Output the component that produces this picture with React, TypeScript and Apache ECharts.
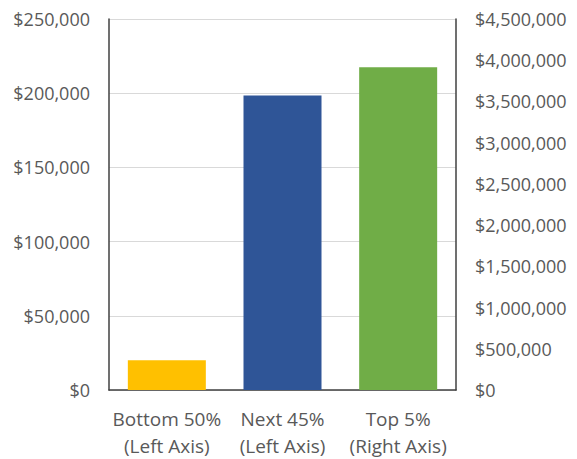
import React, { useEffect, useRef } from "react";
import * as echarts from "echarts";

const categories = ["Bottom 50%\n(Left Axis)", "Next 45%\n(Left Axis)", "Top 5%\n(Right Axis)"];
const leftAxisValues: (number | string)[] = [20000, 198500, "-"];
const rightAxisValues: (number | string)[] = ["-", "-", 3915000];
const barColors = ["#FFC000", "#2F5597", "#70AD47"];

const fmt = (v: number) => "$" + v.toLocaleString("en-US");

export default function App() {
  const ref = useRef<HTMLDivElement>(null);
  useEffect(() => {
    document.body.style.margin = "0";
    const chart = echarts.init(ref.current!, null, { renderer: "svg" });
    const font = "Open Sans";
    const textColor = "#595959";
    const axisColor = "#404040";
    chart.setOption({
      animation: false,
      backgroundColor: "#ffffff",
      grid: { left: 109, right: 121, top: 19, bottom: 68 },
      xAxis: {
        type: "category",
        data: categories,
        axisLine: { show: true, lineStyle: { color: axisColor, width: 1.5 } },
        axisTick: { show: false },
        axisLabel: {
          color: textColor,
          fontFamily: font,
          fontSize: 19,
          lineHeight: 27,
          margin: 15,
          interval: 0,
        },
      },
      yAxis: [
        {
          type: "value",
          min: 0,
          max: 250000,
          interval: 50000,
          position: "left",
          axisLine: { show: true, lineStyle: { color: axisColor, width: 1.5 } },
          axisTick: { show: false },
          splitLine: { show: true, lineStyle: { color: "#D9D9D9", width: 1 } },
          axisLabel: {
            color: textColor,
            fontFamily: font,
            fontSize: 18,
            margin: 19,
            formatter: (v: number) => fmt(v),
          },
        },
        {
          type: "value",
          min: 0,
          max: 4500000,
          interval: 500000,
          position: "right",
          axisLine: { show: true, lineStyle: { color: axisColor, width: 1.5 } },
          axisTick: { show: false },
          splitLine: { show: false },
          axisLabel: {
            color: textColor,
            fontFamily: font,
            fontSize: 18,
            margin: 19,
            formatter: (v: number) => fmt(v),
          },
        },
      ],
      series: [
        {
          type: "bar",
          yAxisIndex: 0,
          data: leftAxisValues.map((v, i) => ({ value: v, itemStyle: { color: barColors[i] } })),
          barWidth: 78,
          barGap: "-100%",
        },
        {
          type: "bar",
          yAxisIndex: 1,
          data: rightAxisValues.map((v, i) => ({ value: v, itemStyle: { color: barColors[i] } })),
          barWidth: 78,
          barGap: "-100%",
        },
      ],
    });
    return () => chart.dispose();
  }, []);
  return <div ref={ref} style={{ width: 577, height: 459 }} />;
}
